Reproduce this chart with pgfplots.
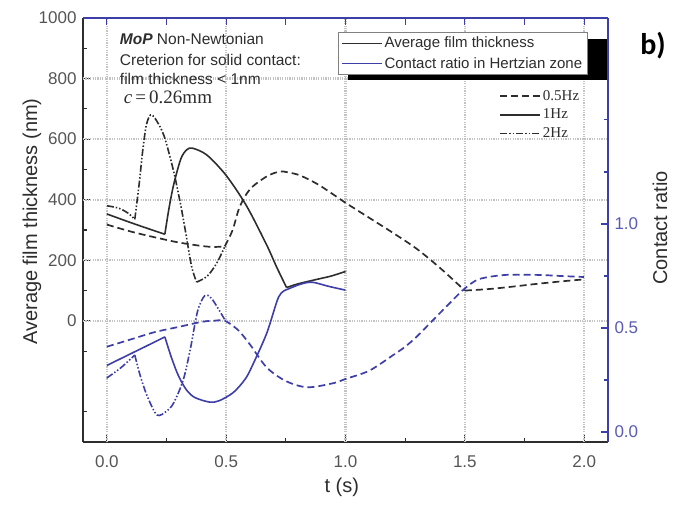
\documentclass[border=0pt]{standalone}
\usepackage{pgfplots}
\pgfplotsset{compat=1.18}
\usepackage{fontspec}
\setmainfont{Liberation Sans}
\newfontfamily\serif{Liberation Serif}
\newfontfamily\bfont{Carlito}
\definecolor{cblue}{RGB}{62,62,168}
\definecolor{cblack}{RGB}{45,45,45}
\definecolor{tickgray}{RGB}{85,85,85}
\definecolor{ticblue}{RGB}{90,90,180}
\definecolor{gridgray}{RGB}{195,195,195}

\pgfplotstableread{
t y
0 318
0.1 295
0.2 276
0.3 259
0.4 247
0.45 244
0.494 246
}\blkHalfA
\pgfplotstableread{
t y
0.494 246
0.527 300
0.556 375
0.6 435
0.67 477
0.724 493
0.76 490
0.81 480
0.89 448
1.0 390
1.1 340
1.2 290
1.3 237
1.4 172
1.5 100
}\blkHalfB
\pgfplotstableread{
t y
1.5 100
1.6 105
1.7 113
1.8 122
1.9 130
2.0 137
}\blkHalfC
\pgfplotstableread{
t y
0 353
0.08 330
0.16 308
0.243 286
}\blkOneA
\pgfplotstableread{
t y
0.243 286
0.26 370
0.28 450
0.31 535
0.335 565
0.36 570
0.42 547
0.5 480
0.585 380
0.67 250
0.71 180
0.753 110
}\blkOneB
\pgfplotstableread{
t y
0.753 110
0.8 122
0.88 137
0.94 148
1.0 163
}\blkOneC
\pgfplotstableread{
t y
0 380
0.05 372
0.09 355
0.117 335
}\blkTwoA
\pgfplotstableread{
t y
0.117 335
0.135 450
0.15 560
0.165 645
0.183 680
0.205 665
0.24 610
0.28 493
0.31 380
0.33 293
0.355 180
0.376 128
}\blkTwoB
\pgfplotstableread{
t y
0.376 128
0.42 147
0.46 190
0.494 245
}\blkTwoC
\pgfplotstableread{
t r
0 0.41
0.1 0.445
0.2 0.48
0.3 0.505
0.4 0.53
0.45 0.535
0.494 0.535
0.55 0.49
0.6 0.42
0.67 0.31
0.75 0.245
0.84 0.215
0.95 0.235
1.0 0.255
1.1 0.295
1.2 0.37
1.25 0.41
1.3 0.46
1.36 0.53
1.45 0.635
1.5 0.69
1.56 0.735
1.67 0.755
1.81 0.755
1.9 0.75
2.0 0.745
}\bluHalf
\pgfplotstableread{
t r
0 0.32
0.08 0.365
0.16 0.41
0.243 0.457
}\bluOneA
\pgfplotstableread{
t r
0.243 0.457
0.27 0.36
0.3 0.27
0.335 0.2
0.37 0.165
0.43 0.144
0.47 0.15
0.53 0.19
0.58 0.255
0.61 0.32
0.67 0.475
0.72 0.65
0.755 0.685
}\bluOneB
\pgfplotstableread{
t r
0.755 0.685
0.81 0.71
0.86 0.72
0.93 0.70
1.0 0.682
}\bluOneC
\pgfplotstableread{
t r
0 0.26
0.06 0.31
0.117 0.37
}\bluTwoA
\pgfplotstableread{
t r
0.117 0.37
0.14 0.27
0.17 0.17
0.21 0.082
0.25 0.1
0.28 0.14
0.32 0.25
0.35 0.40
0.38 0.58
0.41 0.655
0.44 0.64
0.494 0.54
}\bluTwoB

\tikzset{
  halfhz/.style={dash pattern=on 7pt off 4pt, line width=1.7pt},
  onehz/.style={solid, line width=1.6pt},
  twohz/.style={dash pattern=on 7pt off 2pt on 1.5pt off 2pt on 1.5pt off 2pt, line width=1.6pt},
  gridline/.style={draw=gridgray, dash pattern=on 1.2pt off 1.2pt, line width=2.2pt},
}

\begin{document}
\begin{tikzpicture}
\useasboundingbox (0pt,0pt) rectangle (684pt,504pt);
\begin{axis}[
  at={(83pt,62pt)}, anchor=south west,
  width=525pt, height=424pt, scale only axis,
  xmin=-0.1, xmax=2.1, ymin=-400, ymax=1000,
  axis x line*=bottom, axis y line*=left,
  xtick={0,0.5,...,2}, minor xtick={0.25,0.75,1.25,1.75},
  ytick={0,200,...,1000}, minor ytick={-300,-100,100,300,500,700,900},
  tick align=inside,
  major tick length=7pt, minor tick length=4pt,
  tick style={cblack, line width=1.1pt},
  axis line style={cblack, line width=1.3pt},
  /pgf/number format/assume math mode=true,
  /pgf/number format/1000 sep={},
  tick label style={font=\fontsize{17}{17}\selectfont, color=tickgray},
  xticklabel style={/pgf/number format/.cd, fixed, fixed zerofill, precision=1, /tikz/.cd, yshift=-10pt},
  yticklabel style={xshift=-3pt},
  xlabel={t (s)}, ylabel={Average film thickness (nm)},
  label style={font=\fontsize{20}{20}\selectfont, color=cblack},
  xlabel style={at={(axis description cs:0.493,-0.108)}, anchor=center},
  ylabel style={at={(axis description cs:-0.097,0.52)}, anchor=center},
  legend style={at={(rel axis cs:0.955,0.84)}, anchor=north east, draw=none, fill=none,
    font=\serif\fontsize{15}{15}\selectfont, row sep=3.5pt, text=cblack},
  legend cell align=left,
  legend image code/.code={\draw[#1] (0pt,0pt) -- (40pt,0pt);},
]
\pgfplotsinvokeforeach{0,0.5,1,1.5,2}{
  \draw[gridline] (axis cs:#1,-400) -- (axis cs:#1,1000);
}
\pgfplotsinvokeforeach{0,200,400,600,800}{
  \draw[gridline] (axis cs:-0.1,#1) -- (axis cs:2.1,#1);
}
\addlegendimage{cblack, halfhz}\addlegendentry{0.5Hz}
\addlegendimage{cblack, onehz}\addlegendentry{1Hz}
\addlegendimage{cblack, twohz}\addlegendentry{2Hz}
\addplot[cblack, halfhz, smooth, tension=0.5, forget plot] table[x=t,y=y] {\blkHalfA};
\addplot[cblack, halfhz, smooth, tension=0.5, forget plot] table[x=t,y=y] {\blkHalfB};
\addplot[cblack, halfhz, smooth, tension=0.5, forget plot] table[x=t,y=y] {\blkHalfC};
\addplot[cblack, onehz, smooth, tension=0.5, forget plot] table[x=t,y=y] {\blkOneA};
\addplot[cblack, onehz, smooth, tension=0.5, forget plot] table[x=t,y=y] {\blkOneB};
\addplot[cblack, onehz, smooth, tension=0.5, forget plot] table[x=t,y=y] {\blkOneC};
\addplot[cblack, twohz, smooth, tension=0.5, forget plot] table[x=t,y=y] {\blkTwoA};
\addplot[cblack, twohz, smooth, tension=0.5, forget plot] table[x=t,y=y] {\blkTwoB};
\addplot[cblack, twohz, smooth, tension=0.5, forget plot] table[x=t,y=y] {\blkTwoC};
\node[anchor=west, font=\fontsize{15.5}{15.5}\selectfont, text=cblack, inner sep=0pt] at (axis cs:0.054,930) {\textbf{\textit{MoP}} Non-Newtonian};
\node[anchor=west, font=\fontsize{15.5}{15.5}\selectfont, text=cblack, inner sep=0pt] at (axis cs:0.054,863) {Creterion for solid contact:};
\node[anchor=west, font=\fontsize{15.5}{15.5}\selectfont, text=cblack, inner sep=0pt] at (axis cs:0.054,800) {film thickness < 1nm};
\node[anchor=west, font=\serif\fontsize{19}{19}\selectfont, text=cblack, inner sep=0pt] at (axis cs:0.07,737) {\textit{c}\,=\,0.26mm};
\end{axis}
\begin{axis}[
  at={(83pt,62pt)}, anchor=south west,
  width=525pt, height=424pt, scale only axis,
  xmin=-0.1, xmax=2.1, ymin=-0.048, ymax=1.99,
  axis x line*=top, axis y line*=right,
  xtick={0,0.25,...,2}, xticklabels={},
  ytick={0,0.5,1}, minor ytick={0.25,0.75,1.25,1.5,1.75},
  tick align=inside,
  major tick length=7pt, minor tick length=4pt,
  tick style={cblue, line width=1.1pt},
  axis line style={cblue, line width=1.3pt},
  /pgf/number format/assume math mode=true,
  tick label style={font=\fontsize{17}{17}\selectfont, color=ticblue},
  yticklabel style={/pgf/number format/.cd, fixed, fixed zerofill, precision=1, /tikz/.cd, xshift=3pt},
  ylabel={Contact ratio},
  label style={font=\fontsize{20}{20}\selectfont, color=cblack},
  ylabel style={at={(axis description cs:1.099,0.505)}, anchor=center},
  legend style={at={(rel axis cs:0.486,0.967)}, anchor=north west, draw=gray, fill=white,
    font=\fontsize{15}{15}\selectfont, row sep=0pt, inner ysep=1pt, text=cblack,
    nodes={inner ysep=3.9pt}},
  legend cell align=left,
  legend image code/.code={\draw[#1] (0pt,0pt) -- (40pt,0pt);},
]
\fill[black] (rel axis cs:0.505,0.95) rectangle (rel axis cs:0.998,0.854);
\addlegendimage{cblack, line width=1.2pt}\addlegendentry{Average film thickness}
\addlegendimage{cblue, line width=1.2pt}\addlegendentry{Contact ratio in Hertzian zone}
\addplot[cblue, halfhz, smooth, tension=0.5, forget plot] table[x=t,y=r] {\bluHalf};
\addplot[cblue, onehz, smooth, tension=0.5, forget plot] table[x=t,y=r] {\bluOneA};
\addplot[cblue, onehz, smooth, tension=0.5, forget plot] table[x=t,y=r] {\bluOneB};
\addplot[cblue, onehz, smooth, tension=0.5, forget plot] table[x=t,y=r] {\bluOneC};
\addplot[cblue, twohz, smooth, tension=0.5, forget plot] table[x=t,y=r] {\bluTwoA};
\addplot[cblue, twohz, smooth, tension=0.5, forget plot] table[x=t,y=r] {\bluTwoB};
\end{axis}
\node[font=\bfont\bfseries\fontsize{30}{30}\selectfont, text=black] at (653pt,458pt) {b)};
\end{tikzpicture}
\end{document}
